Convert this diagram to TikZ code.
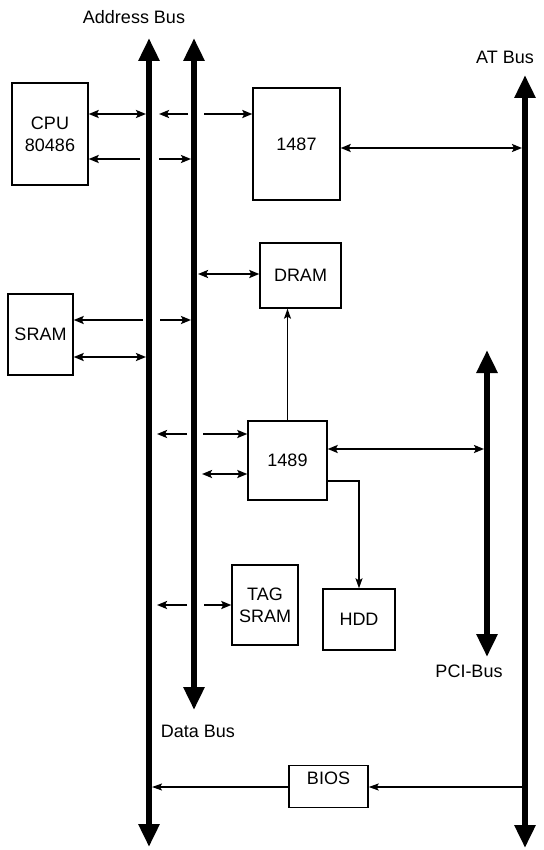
\documentclass[tikz,border=0pt]{standalone}
\usepackage{fontspec}
\setmainfont{Liberation Sans}
\usetikzlibrary{arrows.meta,calc}
\tikzstyle{box} = [draw, line width=1.4pt, align=center, inner sep=0pt]
\tikzstyle{bus} = [line width=6pt, {Triangle[width=20pt,length=23pt]}-{Triangle[width=20pt,length=23pt]}]
\tikzstyle{arrow} = [line width=2.6pt,->,>={Stealth[length=10pt,width=8pt,inset=2pt]}]
\tikzstyle{darrow} = [arrow,<->]
\tikzstyle{wire} = [line width=1.4pt,->,>={Stealth[length=10pt,width=7pt,inset=2pt]}]

\begin{document}
\begin{tikzpicture}[x=1pt,y=1pt,yscale=-1,font=\fontsize{18}{22}\selectfont]
\useasboundingbox (0,0) rectangle (543,850);

%Buses
\coordinate (ab1) at (149,38);  \coordinate (ab2) at (149,847);
\coordinate (db1) at (194,38);  \coordinate (db2) at (194,710);
\coordinate (at1) at (525,75);  \coordinate (at2) at (525,848);
\coordinate (pci1) at (487,350); \coordinate (pci2) at (487,657);
\draw[bus] (ab1) -- (ab2);
\draw[bus] (db1) -- (db2);
\draw[bus] (at1) -- (at2);
\draw[bus] (pci1) -- (pci2);

% Text Node
\node (addrlbl) at (134,17) {Address Bus};
\node (atlbl) at (505,57) {AT Bus};
\node (pcilbl) at (469,671) {PCI-Bus};
\node (datalbl) at (198,731) {Data Bus};

%Boxes
\node[box, minimum width=76pt, minimum height=102pt] (cpu) at (50,134) {CPU\\80486};
\node[box, minimum width=87pt, minimum height=112pt] (c1487) at (296.5,144) {1487};
\node[box, minimum width=81pt, minimum height=65pt] (dram) at (300.5,275.5) {DRAM};
\node[box, minimum width=65pt, minimum height=81pt] (sram) at (40.5,334.5) {SRAM};
\node[box, minimum width=79pt, minimum height=79pt] (c1489) at (287.5,460.5) {1489};
\node[box, minimum width=66pt, minimum height=80pt] (tagsram) at (265,605) {TAG\\SRAM};
\node[box, minimum width=72pt, minimum height=61pt] (hdd) at (359,619.5) {HDD};
\node[box, minimum width=79pt, inner ysep=6pt, text height=13pt, text depth=17pt] (bios) at (328.5,786.5) {BIOS};

%Rows of the links
\coordinate (rcpua) at (0,114);
\coordinate (rcpub) at (0,159);
\coordinate (rat) at (0,148);
\coordinate (rdram) at (0,274);
\coordinate (rsrama) at (0,320);
\coordinate (rsramb) at (0,357);
\coordinate (rpa) at (0,434);
\coordinate (rpci) at (0,449);
\coordinate (rpb) at (0,474);
\coordinate (rhdd) at (0,481);
\coordinate (rtag) at (0,605);
\coordinate (rbios) at (0,787);

%CPU
\draw[darrow] (cpu.east |- rcpua) -- ($(ab1 |- rcpua)+(-3,0)$);
\draw[arrow] ($(db1 |- rcpua)+(-6,0)$) -- ($(ab1 |- rcpua)+(10,0)$);
\draw[arrow] ($(db1 |- rcpua)+(10,0)$) -- (c1487.west |- rcpua);
\draw[arrow] ($(ab1 |- rcpub)+(-9,0)$) -- (cpu.east |- rcpub);
\draw[arrow] ($(ab1 |- rcpub)+(10,0)$) -- ($(db1 |- rcpub)+(-3,0)$);
%1487
\draw[darrow] (c1487.east |- rat) -- ($(at1 |- rat)+(-3,0)$);
%DRAM
\draw[darrow] ($(db1 |- rdram)+(4,0)$) -- (dram.west |- rdram);
%SRAM
\draw[arrow] ($(ab1 |- rsrama)+(-6,0)$) -- (sram.east |- rsrama);
\draw[arrow] ($(ab1 |- rsrama)+(11,0)$) -- ($(db1 |- rsrama)+(-3,0)$);
\draw[darrow] (sram.east |- rsramb) -- ($(ab1 |- rsramb)+(-3,0)$);
%1489
\draw[arrow] ($(db1 |- rpa)+(-7,0)$) -- ($(ab1 |- rpa)+(8,0)$);
\draw[arrow] ($(db1 |- rpa)+(9,0)$) -- (c1489.west |- rpa);
\draw[darrow] ($(db1 |- rpb)+(8,0)$) -- (c1489.west |- rpb);
\draw[darrow] (c1489.east |- rpci) -- ($(pci1 |- rpci)+(-3,0)$);
\draw[wire] (c1489.north) -- (c1489.north |- dram.south);
\draw[wire] (c1489.east |- rhdd) -| (hdd.north);
%TAG SRAM
\draw[arrow] ($(db1 |- rtag)+(-7,0)$) -- ($(ab1 |- rtag)+(8,0)$);
\draw[arrow] ($(db1 |- rtag)+(10,0)$) -- (tagsram.west |- rtag);
%BIOS
\draw[wire] (bios.west |- rbios) -- ($(ab1 |- rbios)+(3,0)$);
\draw[wire] ($(at1 |- rbios)+(-3,0)$) -- (bios.east |- rbios);

\end{tikzpicture}
\end{document}
